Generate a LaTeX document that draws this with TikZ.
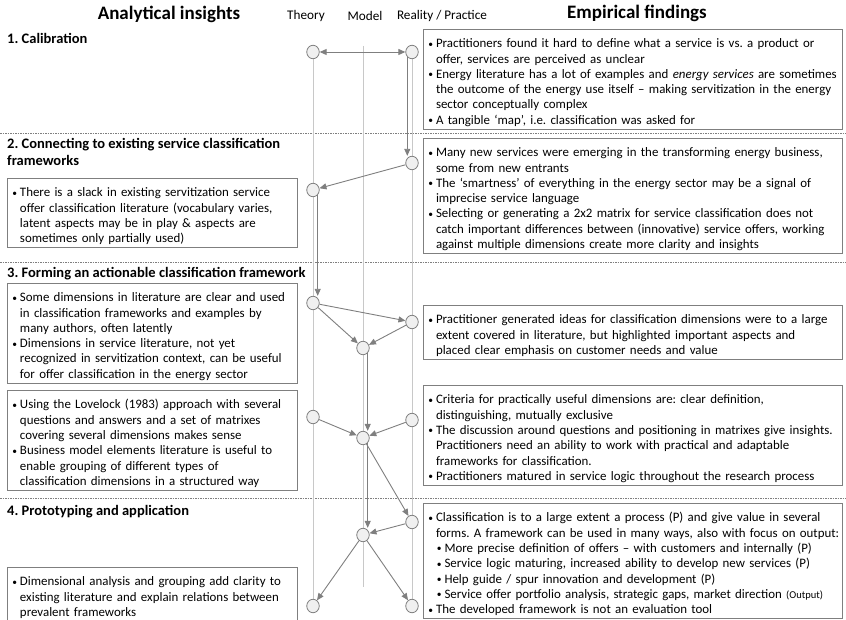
\documentclass[tikz,border=0pt]{standalone}
\usepackage{fontspec}
\setmainfont{Carlito}
\usetikzlibrary{arrows.meta,shapes.geometric,calc}
\setlength{\parskip}{0pt}
\frenchspacing

\definecolor{edge}{HTML}{7F7F7F}
\definecolor{guide}{HTML}{C8C8C8}
\definecolor{dotfill}{HTML}{F0F0F0}

% one printed line per paragraph: bullet line, continuation line, sub-bullet line
\newcommand\bulletmark{\makebox[8.5pt][l]{\hspace*{0.8pt}\raisebox{0.6pt}{\fontsize{9.5}{9.5}\selectfont\textbullet}}}
\newcommand\bulletline[1]{\par\noindent\bulletmark\mbox{#1}}
\newcommand\contline[1]{\par\noindent\hspace*{8.5pt}\mbox{#1}}
\newcommand\subbulletline[1]{\par\noindent\hspace*{8.5pt}\bulletmark\mbox{#1}}

\tikzset{
  bodytext/.style={font=\fontsize{12.9}{15.3}\selectfont},
  framedbox/.style={draw=edge, line width=1pt, anchor=north west, inner xsep=4pt,
    inner ysep=3pt, align=left, bodytext},
  rbox/.style={framedbox, text width=411pt},
  lbox/.style={framedbox, text width=282pt},
  dot/.style={ellipse, draw=edge, fill=dotfill, line width=0.8pt,
    minimum width=12.5pt, minimum height=13.5pt, inner sep=0pt},
  arr/.style={draw=edge, line width=0.9pt, -{Triangle[length=7pt,width=6pt]}},
  dblarr/.style={draw=edge, line width=0.9pt, {Triangle[length=7pt,width=6pt]}-{Triangle[length=7pt,width=6pt]}},
  guideline/.style={draw=guide, line width=0.8pt},
  separator/.style={draw=edge, line width=0.7pt, dash pattern=on 1.5pt off 1pt},
  headbig/.style={font=\fontsize{19}{22}\selectfont\bfseries},
  colhead/.style={font=\fontsize{13.2}{15}\selectfont},
  sechead/.style={font=\fontsize{14.5}{17}\selectfont\bfseries, anchor=north west,
    align=left, inner sep=0pt},
}

\begin{document}
\begin{tikzpicture}[x=1pt,y=-1pt]
\useasboundingbox (0,0) rectangle (846,620);

% ---- column headers ----
\node[headbig] (hA) at (169,14) {Analytical insights};
\node[colhead] (hT) at (306,16) {Theory};
\node[colhead] (hM) at (365,16) {Model};
\node[colhead] (hR) at (442,16) {Reality / Practice};
\node[headbig] (hE) at (637,13) {Empirical findings};
\draw[edge, double=white, double distance=1.2pt, line width=0.6pt] (0,25) -- (846,25);

% ---- phase separators ----
\draw[separator] (0,133) -- (846,133);
\draw[separator] (0,262) -- (846,262);
\draw[separator] (0,498) -- (846,498);

% ---- phase titles ----
\node[sechead] (s1) at (7,33) {1. Calibration};
\node[sechead] (s2) at (7,138) {2. Connecting to existing service classification\\frameworks};
\node[sechead] (s3) at (7,267) {3. Forming an actionable classification framework};
\node[sechead] (s4) at (7,505) {4. Prototyping and application};

% ---- vertical guides: theory, model, reality ----
\coordinate (ttop) at (313,52);
\coordinate (tbot) at (313,606);
\coordinate (mtop) at (363,46);
\coordinate (mbot) at (363,587);
\coordinate (rtop) at (412,52);
\coordinate (rbot) at (412,606);
\draw[guideline] (ttop) -- (tbot);
\draw[guideline] (mtop) -- (mbot);
\draw[guideline] (rtop) -- (rbot);

% ---- process points ----
\node[dot] (t1) at (ttop) {};
\node[dot] (r1) at (rtop) {};
\node[dot] (r2) at (412,163) {};
\node[dot] (t2) at (313,190) {};
\node[dot] (t3) at (313,303) {};
\node[dot] (r3) at (412,322) {};
\node[dot] (m3) at (363,348) {};
\node[dot] (t4) at (313,417) {};
\node[dot] (r4) at (412,420) {};
\node[dot] (m4) at (363,438) {};
\node[dot] (r5) at (412,522) {};
\node[dot] (m5) at (363,535) {};
\node[dot] (t6) at (tbot) {};
\node[dot] (r6) at (rbot) {};

% ---- flow ----
\draw[dblarr] (t1) -- (r1);
\draw[arr] (r1.south west) -- (r1.south west |- r2.north);
\draw[arr] (r2) -- (t2);
\draw[arr] (t2.south east) -- (t2.south east |- t3.north);
\draw[arr] (t3) -- (r3);
\draw[arr] (t3) -- (m3);
\draw[arr] (r3) -- (m3);
\draw[arr] (m3.south east) -- (m3.south east |- m4.north);
\draw[arr] (t4) -- (m4);
\draw[arr] (r4) -- (m4);
\draw[arr] (m4) -- (r5);
\draw[arr] (m4.south east) -- (m4.south east |- m5.north);
\draw[arr] (r5) -- (m5);
\draw[arr] (m5) -- (t6);
\draw[arr] (m5) -- (r6);

% ---- empirical findings ----
\node[rbox] (eb1) at (423,29) {%
\bulletline{Practitioners found it hard to define what a service is vs. a product or}
\contline{offer, services are perceived as unclear}
\bulletline{Energy literature has a lot of examples and \textit{energy services} are sometimes}
\contline{the outcome of the energy use itself – making servitization in the energy}
\contline{sector conceptually complex}
\bulletline{A tangible ‘map’, i.e. classification was asked for}};

\node[rbox] (eb2) at (423,138) {%
\bulletline{Many new services were emerging in the transforming energy business,}
\contline{some from new entrants}
\bulletline{The ‘smartness’ of everything in the energy sector may be a signal of}
\contline{imprecise service language}
\bulletline{Selecting or generating a 2x2 matrix for service classification does not}
\contline{catch important differences between (innovative) service offers, working}
\contline{against multiple dimensions create more clarity and insights}};

\node[rbox] (eb3) at (423,305) {%
\bulletline{Practitioner generated ideas for classification dimensions were to a large}
\contline{extent covered in literature, but highlighted important aspects and}
\contline{placed clear emphasis on customer needs and value}};

\node[rbox] (eb4) at (423,385) {%
\bulletline{Criteria for practically useful dimensions are: clear definition,}
\contline{distinguishing, mutually exclusive}
\bulletline{The discussion around questions and positioning in matrixes give insights.}
\contline{Practitioners need an ability to work with practical and adaptable}
\contline{frameworks for classification.}
\bulletline{Practitioners matured in service logic throughout the research process}};

\node[rbox] (eb5) at (423,503) {%
\bulletline{Classification is to a large extent a process (P) and give value in several}
\contline{forms. A framework can be used in many ways, also with focus on output:}
\subbulletline{More precise definition of offers – with customers and internally (P)}
\subbulletline{Service logic maturing, increased ability to develop new services (P)}
\subbulletline{Help guide / spur innovation and development (P)}
\subbulletline{Service offer portfolio analysis, strategic gaps, market direction {\fontsize{10.5}{13}\selectfont(Output)}}
\bulletline{The developed framework is not an evaluation tool}};

% ---- analytical insights ----
\node[lbox] (ab2) at (7,178) {%
\bulletline{There is a slack in existing servitization service}
\contline{offer classification literature (vocabulary varies,}
\contline{latent aspects may be in play \& aspects are}
\contline{sometimes only partially used)}};

\node[lbox] (ab3) at (7,283) {%
\bulletline{Some dimensions in literature are clear and used}
\contline{in classification frameworks and examples by}
\contline{many authors, often latently}
\bulletline{Dimensions in service literature, not yet}
\contline{recognized in servitization context, can be useful}
\contline{for offer classification in the energy sector}};

\node[lbox] (ab4) at (7,390) {%
\bulletline{Using the Lovelock (1983) approach with several}
\contline{questions and answers and a set of matrixes}
\contline{covering several dimensions makes sense}
\bulletline{Business model elements literature is useful to}
\contline{enable grouping of different types of}
\contline{classification dimensions in a structured way}};

\node[lbox] (ab5) at (7,567) {%
\bulletline{Dimensional analysis and grouping add clarity to}
\contline{existing literature and explain relations between}
\contline{prevalent frameworks}};

\end{tikzpicture}
\end{document}
